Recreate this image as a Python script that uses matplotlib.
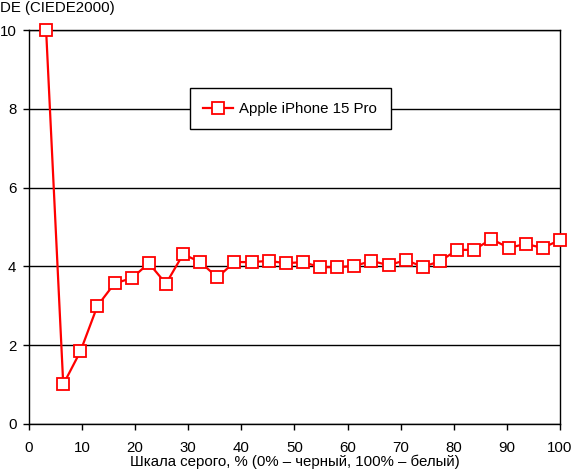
import matplotlib
matplotlib.use('Agg')
import matplotlib.pyplot as plt
import numpy as np

plt.rcParams['font.family'] = ['Liberation Sans', 'DejaVu Sans']

# gray scale steps (%), 31 steps
gray = np.arange(1, 32) * 100 / 31
de = [10.0, 1.0, 1.84, 3.0, 3.57, 3.70, 4.08, 3.56, 4.31, 4.11,
      3.72, 4.11, 4.11, 4.14, 4.08, 4.11, 3.98, 3.98, 4.01, 4.14,
      4.03, 4.16, 3.99, 4.13, 4.42, 4.42, 4.70, 4.47, 4.57, 4.47, 4.67]
series_name = 'Apple iPhone 15 Pro'
xticks = list(range(0, 101, 10))
yticks = list(range(0, 11, 2))

FS = 10.8

fig = plt.figure(figsize=(5.73, 4.72), dpi=100)
ax = fig.add_axes([0.0506, 0.102, 0.9265, 0.834])

ax.plot(gray, de, color='#ff0000', lw=1.6, marker='s', ms=8,
        mfc='white', mec='#ff0000', mew=1.3, label=series_name, zorder=3,
        clip_on=False)

ax.set_xlim(0, 100)
ax.set_ylim(0, 10)
ax.set_xticks(xticks)
ax.set_yticks(yticks)
ax.yaxis.grid(True, color='black', lw=1)
ax.set_axisbelow(True)
for s in ax.spines.values():
    s.set_color('black')
    s.set_linewidth(1)
ax.tick_params(direction='out', length=4, width=1, labelsize=FS, colors='black')
ax.tick_params(axis='x', pad=8)
ax.tick_params(axis='y', pad=5)

ax.set_xlabel('Шкала серого, % (0% – черный, 100% – белый)', fontsize=FS, labelpad=0)
fig.text(0.0, 0.998, 'DE (CIEDE2000)', fontsize=FS, ha='left', va='top')

leg = ax.legend(loc='center', bbox_to_anchor=(0.492, 0.80), fontsize=FS,
                fancybox=False, framealpha=1, edgecolor='black',
                borderpad=0.9, handlelength=2.0, handletextpad=0.4,
                borderaxespad=0)
leg.get_frame().set_linewidth(1)

fig.savefig('out.png', dpi=100)
